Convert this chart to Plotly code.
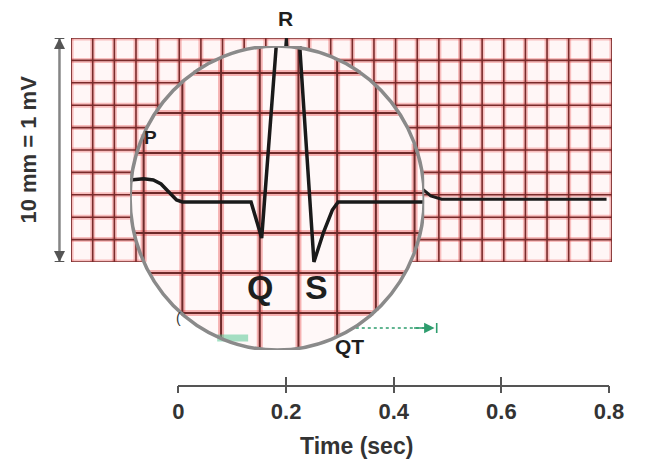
import numpy as np
import plotly.graph_objects as go

W, H = 647, 463
OFF = 8  # page body margin shifts the figure by 8 px
FONT = "Liberation Sans, Arial, sans-serif"

# ---- data -------------------------------------------------------------
# ECG paper: 25 x 10 small squares (1 mm = 0.04 s, 10 mm = 1 mV)
GRID_COLS = list(range(26))
GRID_ROWS = list(range(11))

# unmagnified trace (time s, amplitude mV) - mostly hidden by the lens
MAIN_T = [-0.06, -0.03, 0.0, 0.03, 0.06, 0.16, 0.172, 0.198, 0.222, 0.236,
          0.30, 0.34, 0.38, 0.42, 0.445, 0.465, 0.485, 0.79]
MAIN_MV = [0.0, 0.05, 0.08, 0.05, 0.0, 0.0, -0.06, 0.72, -0.15, 0.0,
           0.0, 0.08, 0.14, 0.12, 0.055, 0.015, 0.0, 0.0]

# magnified trace seen through the lens
LENS_T = [0.026, 0.040, 0.050, 0.058, 0.066, 0.074, 0.080, 0.151, 0.162,
          0.190, 0.216, 0.226, 0.235, 0.241, 0.330]
LENS_MV = [0.055, 0.058, 0.055, 0.045, 0.025, 0.005, 0.0, 0.0, -0.09,
           0.805, -0.15, -0.075, -0.02, 0.0, 0.0]
LENS_GRID_T = [0.04, 0.08, 0.12, 0.16, 0.20, 0.24, 0.28, 0.32]
LENS_GRID_MV = [0.3225, 0.2225, 0.1225, 0.0225, -0.0775, -0.1775, -0.2775]
LENS_XR = [0.026, 0.330]
LENS_YR = [-0.37, 0.39]

TIME_TICKS = [0, 0.2, 0.4, 0.6, 0.8]
TIME_LABELS = ["0", "0.2", "0.4", "0.6", "0.8"]
QT = [0.16, 0.476]
PR_END = [0.116, 0.148]
PR_LEVEL = -0.34


def px(x):
    return (x - OFF) / W


def py(y):
    return 1 - (y - OFF) / H


fig = go.Figure()

# ---- background paper grid --------------------------------------------
gx, gy = [], []
for c in GRID_COLS:
    gx += [c, c, None]
    gy += [GRID_ROWS[0], GRID_ROWS[-1], None]
for r in GRID_ROWS:
    gx += [GRID_COLS[0], GRID_COLS[-1], None]
    gy += [r, r, None]
fig.add_trace(go.Scatter(x=gx, y=gy, mode="lines", xaxis="x", yaxis="y",
                         line=dict(color="rgba(232,70,70,0.32)", width=5),
                         hoverinfo="skip", showlegend=False))
fig.add_trace(go.Scatter(x=gx, y=gy, mode="lines", xaxis="x", yaxis="y",
                         line=dict(color="#7a2b2b", width=1.6),
                         hoverinfo="skip", showlegend=False))

# unmagnified trace
fig.add_trace(go.Scatter(x=MAIN_T, y=MAIN_MV, mode="lines", xaxis="x2", yaxis="y2",
                         line=dict(color="#1c1c1c", width=3),
                         hoverinfo="skip", showlegend=False))

# ---- the lens -----------------------------------------------------------
xc, rx = sum(LENS_XR) / 2, (LENS_XR[1] - LENS_XR[0]) / 2
yc, ry = sum(LENS_YR) / 2, (LENS_YR[1] - LENS_YR[0]) / 2
theta = np.linspace(0, 2 * np.pi, 240)
fig.add_trace(go.Scatter(x=xc + rx * np.cos(theta), y=yc + ry * np.sin(theta),
                         mode="lines", fill="toself", fillcolor="#fff8f8",
                         line=dict(width=0), xaxis="x3", yaxis="y3",
                         hoverinfo="skip", showlegend=False))

lx, ly = [], []
for t in LENS_GRID_T:
    h = ry * np.sqrt(max(0.0, 1 - ((t - xc) / rx) ** 2))
    lx += [t, t, None]
    ly += [yc - h, yc + h, None]
for v in LENS_GRID_MV:
    w = rx * np.sqrt(max(0.0, 1 - ((v - yc) / ry) ** 2))
    lx += [xc - w, xc + w, None]
    ly += [v, v, None]
fig.add_trace(go.Scatter(x=lx, y=ly, mode="lines", xaxis="x3", yaxis="y3",
                         line=dict(color="rgba(230,50,50,0.35)", width=6),
                         hoverinfo="skip", showlegend=False))
fig.add_trace(go.Scatter(x=lx, y=ly, mode="lines", xaxis="x3", yaxis="y3",
                         line=dict(color="#6e2a2a", width=2),
                         hoverinfo="skip", showlegend=False))

# faint magnified arrow end
fig.add_trace(go.Scatter(x=PR_END, y=[PR_LEVEL, PR_LEVEL], mode="lines",
                         xaxis="x3", yaxis="y3",
                         line=dict(color="rgba(90,200,150,0.55)", width=7),
                         hoverinfo="skip", showlegend=False))

fig.add_trace(go.Scatter(x=LENS_T, y=LENS_MV, mode="lines", xaxis="x3", yaxis="y3",
                         line=dict(color="#1a1a1a", width=3.5),
                         hoverinfo="skip", showlegend=False))

# ---- time axis ------------------------------------------------------------
for ax in ("x4", "x5"):
    fig.add_trace(go.Scatter(x=TIME_TICKS, y=[0] * len(TIME_TICKS), mode="markers",
                             marker=dict(opacity=0), xaxis=ax, yaxis="y4",
                             hoverinfo="skip", showlegend=False))

grid_dom_x = [px(67), px(626)]
grid_dom_y = [py(262), py(38)]

fig.update_layout(
    width=W, height=H,
    margin=dict(l=0, r=0, t=0, b=0),
    paper_bgcolor="white", plot_bgcolor="rgba(0,0,0,0)",
    showlegend=False,
    xaxis=dict(domain=grid_dom_x, range=[0, 25], visible=False, fixedrange=True),
    yaxis=dict(domain=grid_dom_y, range=[0, 10], visible=False, fixedrange=True),
    xaxis2=dict(overlaying="x", range=[-0.2, 0.8], visible=False),
    yaxis2=dict(overlaying="y", range=[-0.28, 0.72], visible=False),
    xaxis3=dict(domain=[px(128), px(432)], range=LENS_XR, visible=False, anchor="y3"),
    yaxis3=dict(domain=[py(350), py(46)], range=LENS_YR, visible=False, anchor="x3"),
    xaxis4=dict(domain=[px(178), px(623)], range=[0, 0.8], anchor="y4",
                showline=True, linecolor="#555", linewidth=2, showgrid=False,
                zeroline=False, ticks="inside", ticklen=8, tickwidth=2,
                tickcolor="#555", tickvals=TIME_TICKS, showticklabels=False),
    xaxis5=dict(overlaying="x4", range=[0, 0.8], anchor="y4",
                showline=False, showgrid=False, zeroline=False,
                ticks="outside", ticklen=7, tickwidth=2, tickcolor="#555",
                tickvals=TIME_TICKS, ticktext=TIME_LABELS,
                tickfont=dict(family=FONT, size=22, color="#333", weight="bold")),
    yaxis4=dict(domain=[py(385), py(385) + 0.02], range=[0, 1], visible=False),
)

# cell tint, lens rim, dimension line, QT arrow
fig.add_shape(type="rect", xref="x", yref="y", x0=0, x1=25, y0=0, y1=10,
              fillcolor="#fff6f6", line_width=0, layer="below")
fig.add_shape(type="circle", xref="x3", yref="y3",
              x0=LENS_XR[0], x1=LENS_XR[1], y0=LENS_YR[0], y1=LENS_YR[1],
              line=dict(color="#8a8a8a", width=3.5), layer="above")
fig.add_shape(type="line", xref="paper", yref="y", x0=px(55), x1=px(55), y0=0, y1=10,
              line=dict(color="#858585", width=2.5))
for yv, ay in ((10, 12), (0, -12)):
    fig.add_shape(type="line", xref="paper", yref="y", x0=px(50), x1=px(60),
                  y0=yv, y1=yv, line=dict(color="#555", width=2))
    fig.add_annotation(x=px(55), y=yv, xref="paper", yref="y", ax=0, ay=ay,
                       text="", showarrow=True, arrowhead=2, arrowsize=1.1,
                       arrowwidth=2, arrowcolor="#555")

fig.add_shape(type="line", xref="x2", yref="paper", x0=QT[0], x1=QT[1] - 0.01,
              y0=py(328), y1=py(328), line=dict(color="#2e9d6e", width=1.6, dash="dot"),
              layer="below")
fig.add_shape(type="line", xref="x2", yref="paper", x0=QT[1], x1=QT[1],
              y0=py(323), y1=py(333), line=dict(color="#2e9d6e", width=1.6))
fig.add_annotation(x=QT[1] - 0.004, y=py(328), xref="x2", yref="paper", ax=-22, ay=0,
                   text="", showarrow=True, arrowhead=2, arrowsize=1.3,
                   arrowwidth=1.6, arrowcolor="#2e9d6e")

# ---- labels -----------------------------------------------------------------
labels = [
    ("R", 289, 18, 21),
    ("P", 149, 137, 19),
    ("Q", 262, 287, 34),
    ("S", 321, 287, 34),
    ("QT", 355, 346, 21),
]
for txt, x, y, s in labels:
    fig.add_annotation(x=px(x), y=py(y), xref="paper", yref="paper", text=f"<b>{txt}</b>",
                       xanchor="center", yanchor="middle", showarrow=False,
                       font=dict(family=FONT, size=s, color="#1e1e1e"))

fig.add_annotation(x=px(178), y=py(318), xref="paper", yref="paper", text="(",
                   xanchor="center", yanchor="middle", showarrow=False,
                   font=dict(family=FONT, size=14, color="#333"))
fig.add_annotation(x=px(362), y=py(446), xref="paper", yref="paper",
                   text="<b>Time (sec)</b>", xanchor="center", yanchor="middle",
                   showarrow=False, font=dict(family=FONT, size=23, color="#333"))
fig.add_annotation(x=px(22), y=py(150), xref="paper", yref="paper",
                   text="<b>10 mm = 1 mV</b>", textangle=-90, xanchor="center",
                   yanchor="middle", showarrow=False,
                   font=dict(family=FONT, size=22, color="#333"))

fig.write_html("out.html")
